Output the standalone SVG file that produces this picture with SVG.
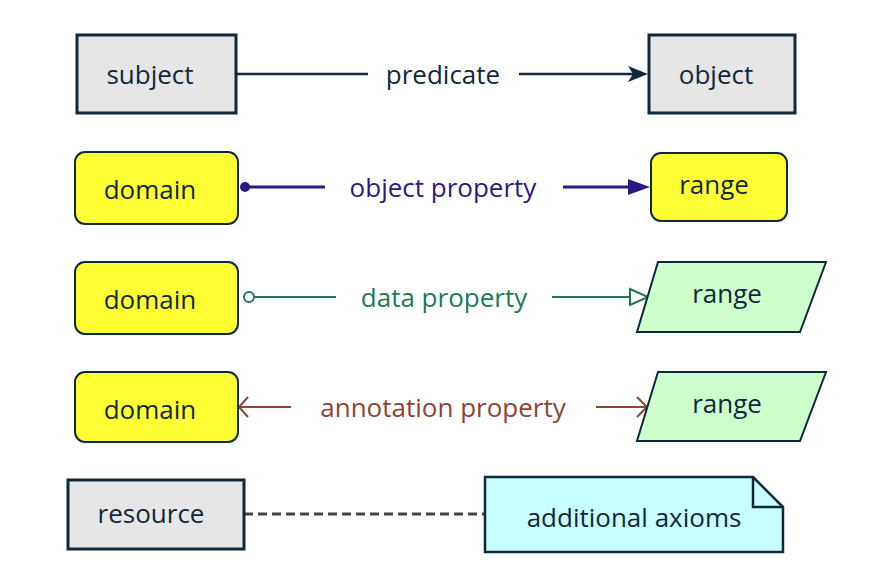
<svg xmlns="http://www.w3.org/2000/svg" width="884" height="575" viewBox="0 0 884 575">
<style>
text{font-family:"Open Sans","Liberation Sans",sans-serif;font-size:26px;fill:#10293a;text-anchor:middle;dominant-baseline:central}
.box{fill:#e6e6e6;stroke:#10293a;stroke-width:3}
.dom{fill:#ffff33;stroke:#10293a;stroke-width:2}
.rng{fill:#ccffcc;stroke:#10293a;stroke-width:2}
.obj{stroke:#2a1a80;stroke-width:3;fill:none}
.dat{stroke:#22775a;stroke-width:2;fill:none}
.ann{stroke:#8b4530;stroke-width:2;fill:none}
</style>
<defs>
<marker id="aBlack" viewBox="0 0 10 10" refX="10" refY="5" markerWidth="8" markerHeight="8" markerUnits="userSpaceOnUse" orient="auto"><path d="M0,0 L10,5 L0,10 L3,5 Z" fill="#10293a"/></marker>
</defs>
<g id="connectors">
<line x1="236" y1="74" x2="368" y2="74" stroke="#10293a" stroke-width="2.5"/>
<line x1="519" y1="74" x2="640" y2="74" stroke="#10293a" stroke-width="2.5"/>
<path d="M628,66 L648,74 L628,82 L633,74 Z" fill="#10293a"/>
<text x="443" y="74">predicate</text>
<circle cx="245" cy="187" r="5" fill="#2a1a80"/>
<line class="obj" x1="245" y1="187" x2="325" y2="187"/>
<line class="obj" x1="563" y1="187" x2="632" y2="187"/>
<path d="M628,179 L650,187 L628,195 Z" fill="#2a1a80"/>
<text x="443" y="187" style="fill:#2a1a80">object property</text>
<circle cx="249" cy="297" r="5" fill="#fff" stroke="#22775a" stroke-width="2"/>
<line class="dat" x1="254" y1="297" x2="336" y2="297"/>
<line class="dat" x1="552" y1="297" x2="630" y2="297"/>
<path class="dat" d="M630,289 L648,297 L630,305 Z" fill="#fff"/>
<text x="444" y="297" style="fill:#22775a">data property</text>
<line class="ann" x1="239" y1="407" x2="291" y2="407"/>
<path class="ann" d="M248,397 L239,407 L248,417"/>
<line class="ann" x1="596" y1="407" x2="647" y2="407"/>
<path class="ann" d="M637,397 L647,407 L637,417"/>
<text x="443" y="407" style="fill:#8b4530">annotation property</text>
<line x1="244" y1="514" x2="485" y2="514" stroke="#444" stroke-width="3" stroke-dasharray="9,5"/>
</g>
<g id="subject"><rect class="box" x="77" y="35" width="159" height="78"/><text x="150" y="74">subject</text></g>
<g id="object"><rect class="box" x="649" y="35" width="146" height="78"/><text x="716" y="74">object</text></g>
<g id="domain1"><rect class="dom" x="75" y="152" width="163" height="72" rx="10"/><text x="150" y="189">domain</text></g>
<g id="range1"><rect class="dom" x="651" y="153" width="136" height="68" rx="10"/><text x="714" y="184">range</text></g>
<g id="domain2"><rect class="dom" x="75" y="262" width="163" height="72" rx="10"/><text x="150" y="299">domain</text></g>
<g id="range2"><polygon class="rng" points="658,262 826,262 800,332 637,332"/><text x="727" y="293">range</text></g>
<g id="domain3"><rect class="dom" x="75" y="372" width="163" height="70" rx="10"/><text x="150" y="409">domain</text></g>
<g id="range3"><polygon class="rng" points="658,372 826,372 800,441 637,441"/><text x="727" y="403">range</text></g>
<g id="resource"><rect class="box" x="68" y="480" width="176" height="69"/><text x="151" y="513">resource</text></g>
<g id="axioms"><path d="M485,477 L753,477 L783,507 L783,552 L485,552 Z" fill="#c8ffff" stroke="#10293a" stroke-width="2.5"/><path d="M753,477 L753,507 L783,507" fill="none" stroke="#10293a" stroke-width="2.5"/><text x="634" y="517">additional axioms</text></g>
</svg>
